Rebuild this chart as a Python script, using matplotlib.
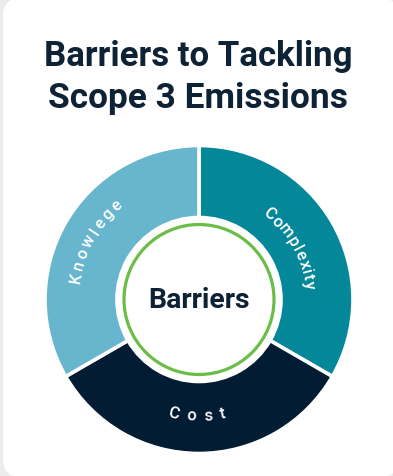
import numpy as np
import matplotlib
matplotlib.use("Agg")
import matplotlib.pyplot as plt
from matplotlib.patches import FancyBboxPatch, Circle

# ---- data -------------------------------------------------------------
categories = ["Complexity", "Cost", "Knowlege"]
shares = [1, 1, 1]
colors = ["#05879a", "#021d33", "#68b5ce"]
title_lines = ["Barriers to Tackling", "Scope 3 Emissions"]
center_label = "Barriers"

NAVY = "#0e2236"
GREEN = "#6abd46"
BG = "#ececec"
FONT = "Roboto"

W, H, DPI = 393, 477, 100
fig = plt.figure(figsize=(W / DPI, H / DPI), dpi=DPI)
fig.patch.set_facecolor(BG)

# full-figure canvas in pixel units (y downwards)
canvas = fig.add_axes([0, 0, 1, 1])
canvas.set_xlim(0, W)
canvas.set_ylim(H, 0)
canvas.axis("off")
card = FancyBboxPatch((3, -1), 395, 479, boxstyle="round,pad=0,rounding_size=18",
                      fc="white", ec="none")
canvas.add_patch(card)

renderer = fig.canvas.get_renderer()


def fit_text(ax, x, y, s, target_w, **kw):
    t = ax.text(x, y, s, **kw)
    fs = t.get_fontsize()
    w = t.get_window_extent(renderer).width
    t.set_fontsize(fs * target_w / w)
    return t


fit_text(canvas, 198.5, 66, title_lines[0], 309, ha="center", va="baseline",
         fontsize=22, fontweight="bold", color=NAVY, family=FONT)
fit_text(canvas, 198, 108, title_lines[1], 300, ha="center", va="baseline",
         fontsize=22, fontweight="bold", color=NAVY, family=FONT)

# ---- donut ------------------------------------------------------------
CX, CY, R = 199, 300.5, 154.0
half = 162.0
pie_ax = fig.add_axes([(CX - half) / W, 1 - (CY + half) / H, 2 * half / W, 2 * half / H])

inner = 82.0
pie_ax.pie(shares, colors=colors, startangle=90, counterclock=False, radius=1.0,
           wedgeprops=dict(width=(R - inner) / R, edgecolor="white", linewidth=2.6))
pie_ax.set_xlim(-half / R, half / R)
pie_ax.set_ylim(-half / R, half / R)
pie_ax.set_aspect("equal")
pie_ax.axis("off")

pie_ax.add_patch(Circle((0, 0), 75.0 / R, fc="none", ec=GREEN, lw=2.3))

fit_text(pie_ax, 0, 0, center_label, 102, ha="center", va="center", fontsize=18,
         fontweight="semibold", color=NAVY, family=FONT)


def arc_text(ax, s, r_px, a_first, a_last, fontsize, outward=True):
    """Place characters of s along a circle, first/last char centres at given angles."""
    widths = []
    for ch in s:
        t = ax.text(0, 0, ch, fontsize=fontsize, family=FONT, fontweight="medium")
        widths.append(t.get_window_extent(renderer).width)
        t.remove()
    widths = np.array(widths)
    span_px = np.deg2rad(abs(a_first - a_last)) * r_px
    inner_w = widths[1:-1].sum() + widths[0] / 2 + widths[-1] / 2
    track = (span_px - inner_w) / (len(s) - 1)
    direction = -1 if outward else 1
    pos = 0.0
    for i, ch in enumerate(s):
        if i > 0:
            pos += widths[i - 1] / 2 + track + widths[i] / 2
        theta = a_first + direction * np.rad2deg(pos / r_px)
        th = np.deg2rad(theta)
        rot = theta - 90 if outward else theta + 90
        ax.text(r_px / R * np.cos(th), r_px / R * np.sin(th), ch, rotation=rot,
                rotation_mode="anchor", ha="center", va="center",
                fontsize=fontsize, color="white", family=FONT, fontweight="medium")


arc_text(pie_ax, categories[0], 111, 51, 8, 12, outward=True)
arc_text(pie_ax, categories[2], 125, 169.5, 131, 12, outward=True)
arc_text(pie_ax, categories[1], 116, 257.5, 282, 12, outward=False)

fig.savefig("out.png", dpi=DPI, facecolor=BG)
